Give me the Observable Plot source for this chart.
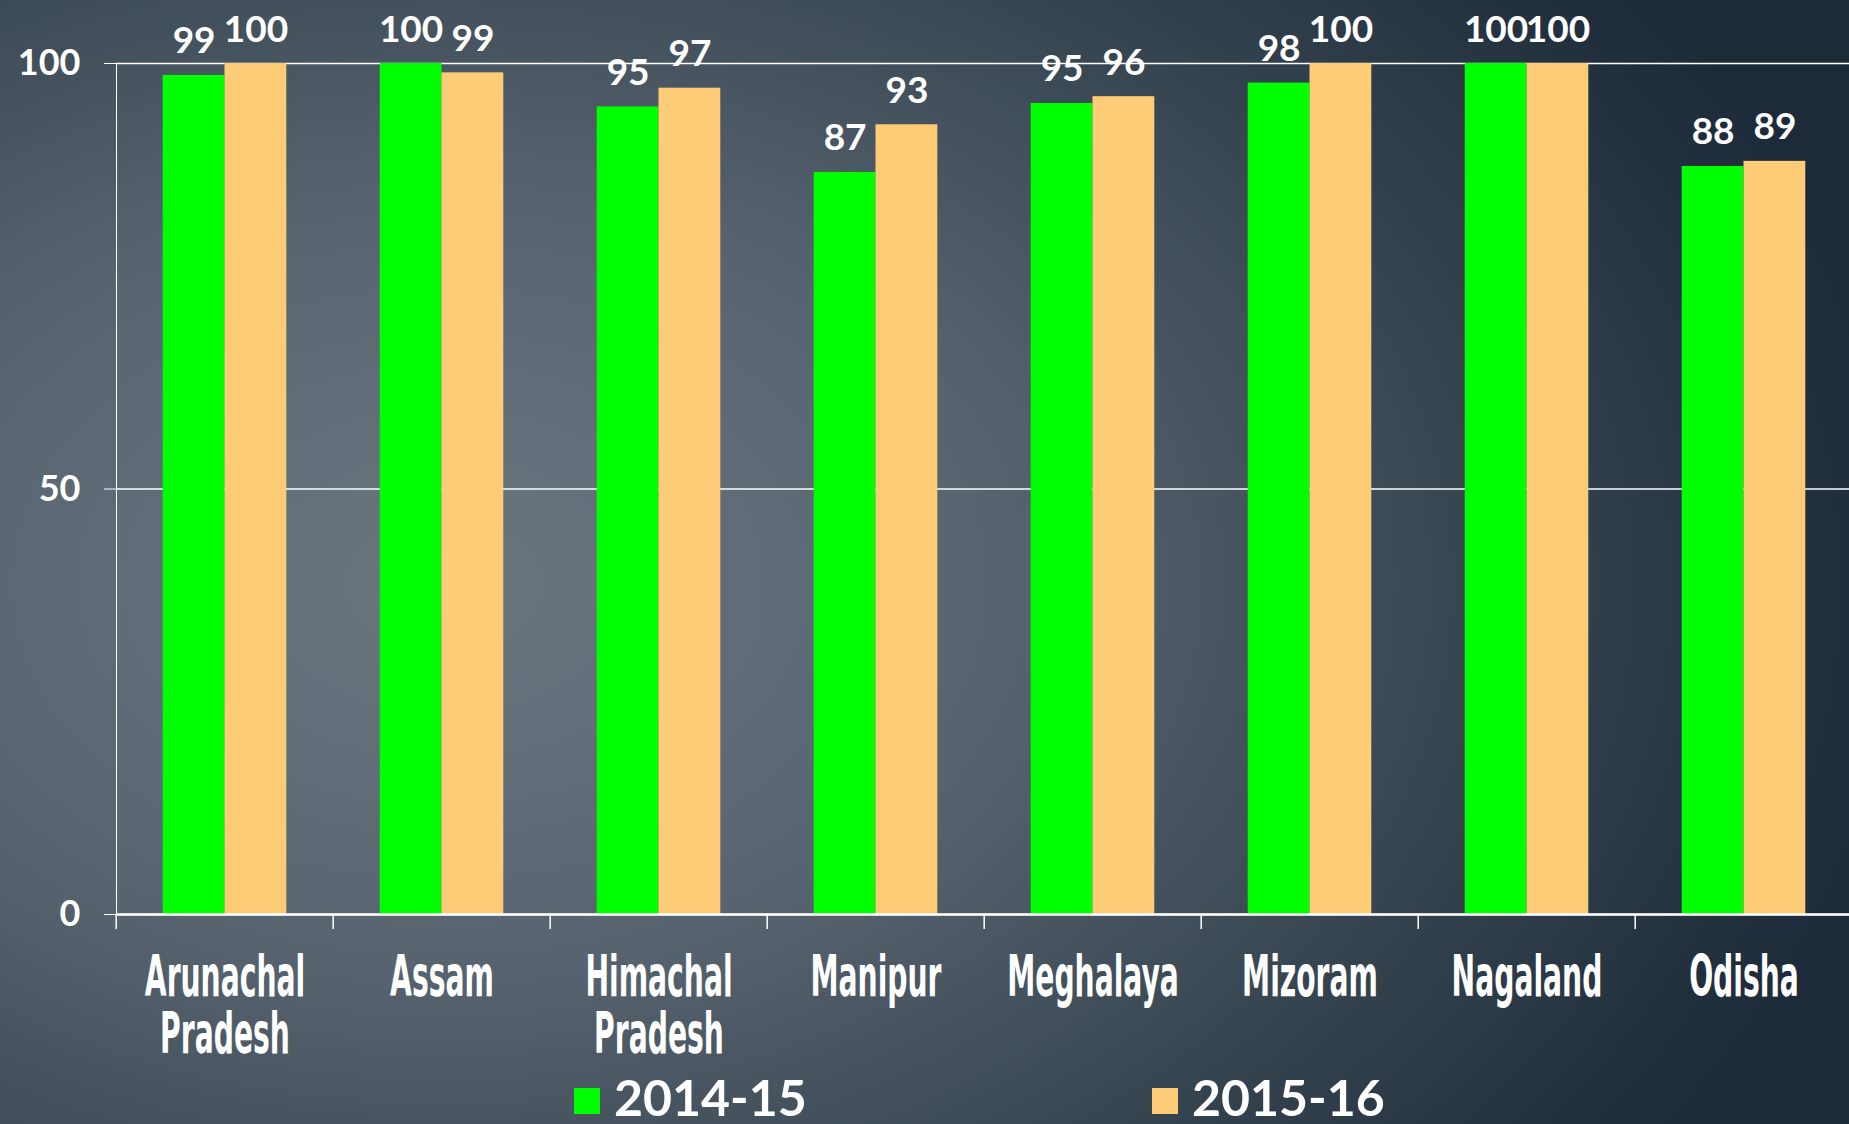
<!DOCTYPE html>
<html>
<head>
<meta charset="utf-8">
<script src="https://cdn.jsdelivr.net/npm/d3@7"></script>
<script src="https://cdn.jsdelivr.net/npm/@observablehq/plot@0.6"></script>
<style>
  html, body { margin: 0; padding: 0; overflow: hidden; }
  body {
    width: 1849px; height: 1124px; position: relative; overflow: hidden;
    background: radial-gradient(ellipse 80% 90% at 24% 52%, #6a7781 0%, #57646f 38%, #35434f 72%, #1c2a39 100%);
    font-family: Lato, "Open Sans", sans-serif;
  }
  #chart svg { display: block; }
  #legend { position: absolute; left: 0; top: 1070px; width: 1849px; height: 54px; }
  .item { position: absolute; top: 0; height: 54px; display: flex; align-items: center; color: white;
          font: bold 50px Lato, sans-serif; }
  .sw { width: 26px; height: 26px; margin-right: 14px; margin-top: 8px; }
</style>
</head>
<body>
<div id="chart"></div>
<div id="legend"></div>
<script>
// ---- data ----
const states = ["Arunachal Pradesh", "Assam", "Himachal Pradesh", "Manipur", "Meghalaya", "Mizoram", "Nagaland", "Odisha"];
const stateLabels = ["Arunachal\nPradesh", "Assam", "Himachal\nPradesh", "Manipur", "Meghalaya", "Mizoram", "Nagaland", "Odisha"];
const years = ["2014-15", "2015-16"];
const values2014 = [98.6, 100, 94.9, 87.2, 95.3, 97.7, 100, 87.9];
const values2015 = [100, 98.9, 97.1, 92.8, 96.1, 100, 100, 88.5];
const labels2014 = ["99", "100", "95", "87", "95", "98", "100", "88"];
const labels2015 = ["100", "99", "97", "93", "96", "100", "100", "89"];
const yTicks = [0, 50, 100];
const colors = ["#00ff00", "#fecb77"];

const rows = [];
states.forEach((s, i) => {
  rows.push({state: s, year: years[0], value: values2014[i], label: labels2014[i]});
  rows.push({state: s, year: years[1], value: values2015[i], label: labels2015[i]});
});
const labelOf = new Map(states.map((s, i) => [s, stateLabels[i]]));

// ---- layout ----
const W = 1849, H = 1070, ML = 113, MR = -5, MT = 63, MB = H - 914;
const bw = (W - ML - MR) / states.length;
const condense = 0.55;

const chart = Plot.plot({
  width: W, height: H,
  marginLeft: ML, marginRight: MR, marginTop: MT, marginBottom: MB,
  style: {background: "transparent", color: "white", fontFamily: "Lato, sans-serif", fontSize: "36px", fontWeight: "bold", overflow: "hidden"},
  fx: {domain: states, paddingInner: 0, paddingOuter: 0, label: null},
  x: {domain: years, paddingInner: 0, paddingOuter: 0.7556, round: false, axis: null},
  y: {domain: [0, 100], ticks: yTicks, tickSize: 12, tickPadding: 24, line: true, label: null},
  color: {domain: years, range: colors},
  marks: [
    Plot.gridY(yTicks, {stroke: "white", strokeOpacity: 1, strokeWidth: 1.6}),
    Plot.barY(rows, {fx: "state", x: "year", y: "value", fill: "year"}),
    Plot.ruleY([0], {stroke: "white", strokeWidth: 2.5}),
    Plot.axisFx({anchor: "bottom", tickSize: 15, text: null, dx: -bw / 2, stroke: "white", strokeWidth: 1.5, label: null}),
    Plot.axisFx({anchor: "bottom", tickSize: 0, tickPadding: 41, tickFormat: d => labelOf.get(d), label: null,
      fontFamily: "'Liberation Sans Narrow', 'DejaVu Sans Condensed', 'Roboto Condensed', sans-serif",
      fontSize: 57, fontWeight: "bold", lineHeight: 1, fill: "white", className: "fxlab"}),
    Plot.text(rows, {fx: "state", x: "year", y: "value", text: "label", dy: -22, lineAnchor: "bottom",
      fill: "white", fontSize: 37, fontWeight: "bold"})
  ]
});
document.getElementById("chart").append(chart);

// condense the category labels horizontally (Agency-style narrow face)
d3.select(chart).selectAll(".fxlab text").each(function() {
  const t = this.getAttribute("transform") || "";
  const x = +(this.getAttribute("x") || 0);
  this.setAttribute("transform", `${t} translate(${x},0) scale(${condense},1) translate(${-x},0)`);
});

// ---- legend ----
const legendLeft = [574, 1152];
const legend = document.getElementById("legend");
years.forEach((y, i) => {
  const it = document.createElement("div");
  it.className = "item";
  it.style.left = legendLeft[i] + "px";
  const sw = document.createElement("span");
  sw.className = "sw";
  sw.style.background = colors[i];
  const t = document.createElement("span");
  t.textContent = y;
  it.append(sw, t);
  legend.append(it);
});
</script>
</body>
</html>
